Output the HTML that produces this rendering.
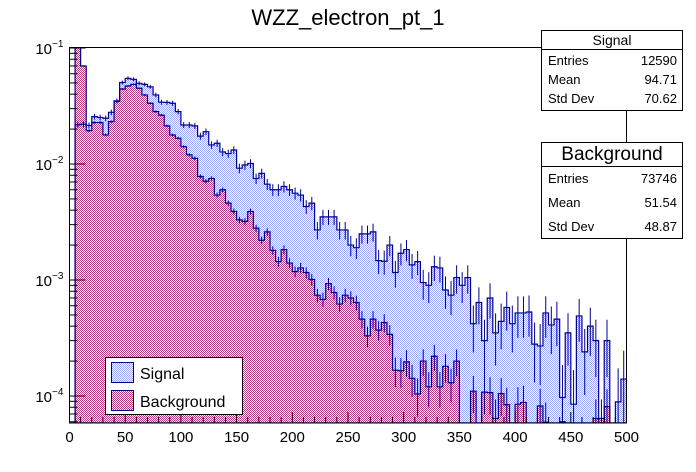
<!DOCTYPE html>
<html><head><meta charset="utf-8"><style>
body{margin:0;background:#fff;}
svg{display:block;font-family:"Liberation Sans",Arial,sans-serif;}
</style></head><body>
<svg id="chart" width="696" height="472" viewBox="0 0 696 472" xmlns="http://www.w3.org/2000/svg">
<defs>
<pattern id="patS" patternUnits="userSpaceOnUse" width="2" height="2"><rect width="2" height="2" fill="#fff"/><rect width="1" height="1" fill="#9aa6f5"/><rect x="1" y="1" width="1" height="1" fill="#9aa6f5"/></pattern>
<pattern id="patB" patternUnits="userSpaceOnUse" width="2" height="2"><rect width="2" height="2" fill="#fff"/><rect width="1" height="1" fill="#b63a82"/><rect x="1" y="1" width="1" height="1" fill="#b63a82"/></pattern>
<clipPath id="frameClip"><rect x="69.5" y="47" width="557" height="376"/></clipPath>
</defs>
<text x="348" y="25" font-size="22" text-anchor="middle">WZZ_electron_pt_1</text>
<g id="plot" clip-path="url(#frameClip)"></g>
<g id="axes"></g>
<rect x="69.5" y="47.5" width="557" height="375.5" fill="none" stroke="#000" stroke-width="1"/>
<g>
<rect x="105.5" y="357.5" width="137" height="57" fill="#fff" stroke="#000"/>
<rect x="111.5" y="362.5" width="22" height="20" fill="url(#patS)" stroke="#00008b"/>
<text x="140" y="379" font-size="16">Signal</text>
<rect x="111.5" y="390.5" width="22" height="20" fill="url(#patB)" stroke="#00008b"/>
<text x="140" y="407" font-size="16">Background</text>
</g>
<g font-size="13">
<rect x="541.5" y="30.5" width="141" height="80" fill="#fff" stroke="#000"/>
<line x1="541.5" y1="49.5" x2="682.5" y2="49.5" stroke="#000"/>
<text x="612" y="45" text-anchor="middle" font-size="14">Signal</text>
<text x="548" y="65">Entries</text><text x="677" y="65" text-anchor="end">12590</text>
<text x="548" y="84">Mean</text><text x="677" y="84" text-anchor="end">94.71</text>
<text x="548" y="103">Std Dev</text><text x="677" y="103" text-anchor="end">70.62</text>
</g>
<g font-size="13">
<rect x="541.5" y="142.5" width="141" height="96" fill="#fff" stroke="#000"/>
<line x1="541.5" y1="166.5" x2="682.5" y2="166.5" stroke="#000"/>
<text x="612" y="160" text-anchor="middle" font-size="19">Background</text>
<text x="548" y="183">Entries</text><text x="677" y="183" text-anchor="end">73746</text>
<text x="548" y="207">Mean</text><text x="677" y="207" text-anchor="end">51.54</text>
<text x="548" y="231">Std Dev</text><text x="677" y="231" text-anchor="end">48.87</text>
</g>
</svg>
<script>
const binEdges0 = 0, binWidth = 5;
const signalValues = [0,.0218,.022,.0215,.0256,.0252,.0248,.0279,.035,.0504,.0548,.0537,.0496,.0486,.0463,.0394,.0341,.034,.0334,.0283,.0217,.0217,.0213,.0174,.019,.0146,.0151,.0127,.0123,.0132,.0092,.0098,.0101,.0075,.0083,.0067,.006,.006,.0064,.006,.0056,.0054,.0043,.0046,.0027,.0035,.0035,.0035,.0027,.0027,.002,.0019,.0025,.0025,.0026,.00147,.00145,.002,.00116,.0017,.00183,.00135,.00144,.00095,.0009,.0013,.00127,.00082,.00074,.00105,.0009,.00105,.00042,.00064,.0003,.0007,.00035,.00044,.00058,.00042,.00052,.00052,.00053,.00028,.00027,.00052,.00041,.00046,.000097,.00035,.000085,.00049,.00024,.0004,.0003,0,.0003,0,.000089,.00014];
const backgroundValues = [0,.106,.07,.0194,.0228,.0228,.0178,.0232,.0346,.0443,.047,.0486,.045,.0394,.0334,.0283,.0264,.0213,.0178,.0167,.0141,.012,.0112,.0078,.0071,.0075,.0054,.006,.0046,.0039,.0033,.0032,.0039,.0028,.0022,.0026,.0018,.00144,.00183,.0014,.00118,.00127,.00116,.00101,.00074,.00068,.00093,.00078,.00062,.00074,.0007,.00064,.00046,.00033,.00046,.00037,.00043,.00034,.000167,.000165,.000197,.000142,.000104,.0002,.00012,.00022,.00012,.00018,.00013,.0002,0,0,.00011,0,.000108,.000107,.000064,.000105,.000084,0,.000085,.000088,0,0,.000082,.0000595,0,0,.00006,0,0,0,0,0,.000064,.000064,.000081,0,0,0];
const signalEntries = 12590, backgroundEntries = 73746;
const xTicks = [0,50,100,150,200,250,300,350,400,450,500];
const yDecades = [-4,-3,-2,-1];

const NS="http://www.w3.org/2000/svg";
const X0=69.5, X1=626.5, YB=423;
function X(v){return X0+(v)*(X1-X0)/500;}
function Y(v){return 48-116*(Math.log10(v)+1);}
function mk(tag,attrs,parent){const e=document.createElementNS(NS,tag);for(const k in attrs)e.setAttribute(k,attrs[k]);parent.appendChild(e);return e;}
const plot=document.getElementById('plot'), axes=document.getElementById('axes');

function stepPath(vals){
  let d='M'+X(0)+','+YB;
  vals.forEach((v,i)=>{const y=v>0?Math.max(Y(v),40):YB;d+=' L'+X(i*binWidth)+','+y+' L'+X((i+1)*binWidth)+','+y;});
  d+=' L'+X(vals.length*binWidth)+','+YB+' Z';return d;
}
function drawHist(vals,pat,name){
  const f=mk('path',{d:stepPath(vals),fill:'url(#'+pat+')',stroke:'none'},plot);
  
  
}
function drawOutline(vals,entries,name){
  const o=mk('path',{d:stepPath(vals),fill:'none',stroke:'#00008b','stroke-width':1.2},plot);
  
  
  vals.forEach((v,i)=>{
    if(v<=0)return;
    const n=v*entries, e=v/Math.sqrt(n);
    const lo=v-e>0?Y(v-e):YB, hi=Y(v+e), cx=X((i+0.5)*binWidth);
    const l=mk('line',{x1:cx,x2:cx,y1:Math.min(lo,YB),y2:hi,stroke:'#00008b','stroke-width':1},plot);
    
    
  });
}
drawHist(signalValues,'patS','signal');
drawHist(backgroundValues,'patB','background');
drawOutline(signalValues,signalEntries,'signal');
drawOutline(backgroundValues,backgroundEntries,'background');

for(let v=0;v<=500;v+=10){
  const major=v%50===0;
  const t=mk('line',{x1:X(v),x2:X(v),y1:YB,y2:YB-(major?11:6),stroke:'#000'},axes);
  
  
}
xTicks.forEach(v=>{
  const t=mk('text',{x:X(v),y:442,'font-size':15,'text-anchor':'middle'},axes);
  t.textContent=v;
  
  
});
for(let d=-5;d<=-1;d++){
  for(let m=1;m<=9;m++){
    const val=m*Math.pow(10,d), y=Y(val);
    if(y<47||y>YB)continue;
    const t=mk('line',{x1:X0,x2:X0+(m===1?16:8),y1:y,y2:y,stroke:'#000'},axes);
    
    
  }
}
yDecades.forEach(d=>{
  const y=Y(Math.pow(10,d));
  const t=mk('text',{x:52,y:y+6,'font-size':15,'text-anchor':'end'},axes);
  t.textContent='10';
  
  
  const s=mk('text',{x:52,y:y-1,'font-size':10},axes);
  s.textContent='\u2212'+(-d);
  
  
});
</script>
</body></html>
